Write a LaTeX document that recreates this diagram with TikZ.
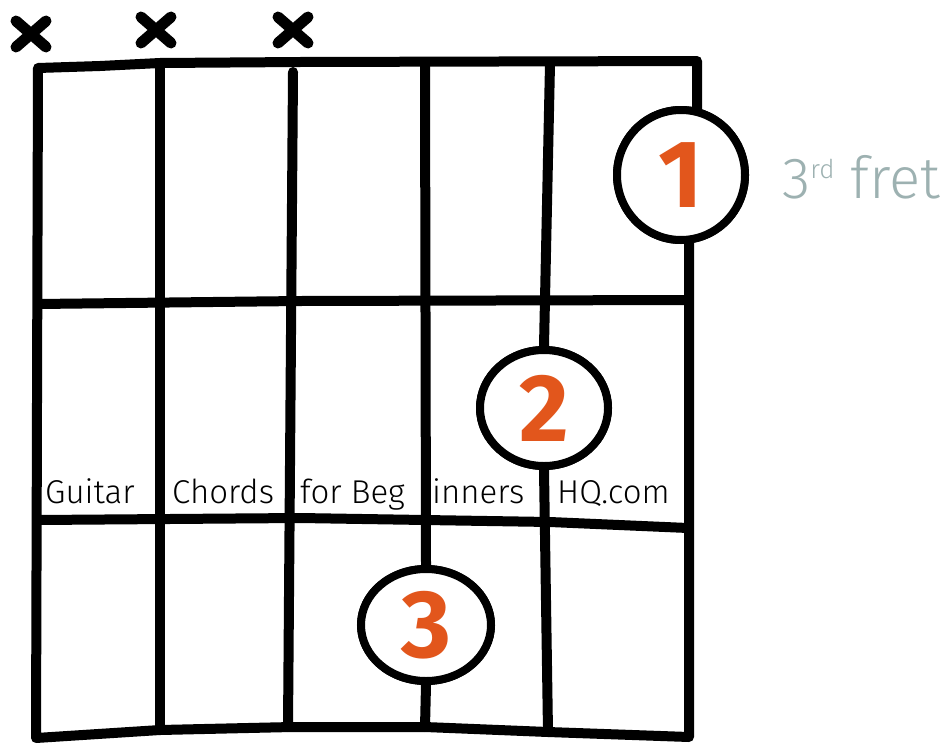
\documentclass[tikz,border=0pt]{standalone}
\usepackage{fontspec}
\setmainfont{Fira Sans}
\newfontfamily\thinfont{Fira Sans Light}
\usetikzlibrary{shapes.geometric}
\definecolor{fing}{HTML}{E2561C}
\definecolor{fretc}{HTML}{9DB1B1}
\begin{document}
\begin{tikzpicture}[x=1pt,y=-1pt,
  grid/.style={line width=10pt,line cap=round,line join=round},
  finger/.style={ellipse,draw,line width=8pt,fill=white,inner sep=0pt,
    font=\fontsize{96}{96}\selectfont\bfseries,text=fing},
  word/.style={anchor=base west,inner sep=0pt,font=\thinfont\fontsize{33}{34}\selectfont},
  xmark/.style={line width=11pt,line cap=round}]
\useasboundingbox (0,0) rectangle (944,744);
% finger circles
\node[finger,minimum width=128pt,minimum height=130pt] (f1) at (681,175) {1};
\node[finger,minimum width=128pt,minimum height=116pt] (f2) at (544,408) {2};
\node[finger,minimum width=130pt,minimum height=112pt] (f3) at (426,625) {3};
% corners
\coordinate (tl) at (38,68);
\coordinate (tr) at (697,61);
\coordinate (bl) at (36,738);
\coordinate (br) at (689,737);
% frame
\draw[grid] (697,130) -- (tr) -- (300,62) -- (160,63) -- (100,66) -- (tl) -- (bl)
  -- (160,730) -- (292,727) -- (425,727) -- (548,732) -- (br) -- (689,220);
% strings
\draw[grid] (160,66) -- (160,730);
\draw[grid] (293,72) -- (288,727);
\draw[grid] (425,66) -- (f3.north);
\draw[grid] (f3.south) -- (425,727);
\draw[grid] (550,64) -- (f2.north);
\draw[grid] (f2.south) -- (548,732);
% frets
\draw[grid] (38,304) -- (300,301) -- (688,300);
\draw[grid] (38,520) -- (300,518) -- (550,522) -- (688,528);
% redraw circles on top
\node[finger,minimum width=128pt,minimum height=130pt] at (f1) {1};
\node[finger,minimum width=128pt,minimum height=116pt] at (f2) {2};
\node[finger,minimum width=130pt,minimum height=112pt] at (f3) {3};
% muted strings
\foreach \n/\cx/\cy in {xa/31/34, xb/156/30, xc/293/30}{
  \coordinate (\n) at (\cx,\cy);
  \draw[xmark] ([shift={(-15,-13)}]\n) -- ([shift={(15,13)}]\n);
  \draw[xmark] ([shift={(-15,13)}]\n) -- ([shift={(15,-13)}]\n);
}
% watermark words
\node[word] (w1) at (45,503) {Guitar};
\node[word] (w2) at (172,503) {Chords};
\node[word] (w3) at (300,503) {for Beg};
\node[word] (w4) at (432,503) {inners};
\node[word] (w5) at (557,503) {HQ.com};
% fret label
\node[anchor=base west,inner sep=0pt,text=fretc,font=\thinfont\fontsize{58}{60}\selectfont] (fl) at (782,198)
  {3\raisebox{20pt}{\fontsize{26}{26}\selectfont rd} fret};
\end{tikzpicture}
\end{document}
